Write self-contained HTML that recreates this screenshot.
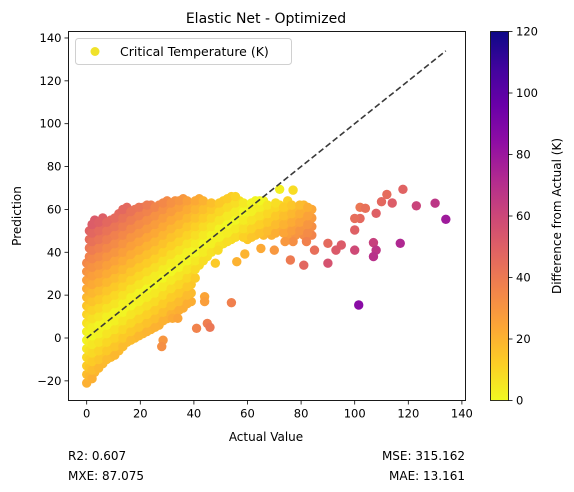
<!DOCTYPE html>
<html><head><meta charset="utf-8">
<style>
body{margin:0;background:#fff;}
svg{display:block;font-family:"DejaVu Sans","Liberation Sans",sans-serif;}
</style></head>
<body>
<svg id="chart" width="574" height="492" viewBox="0 0 574 492">
  <text x="266" y="23" font-size="14" text-anchor="middle">Elastic Net - Optimized</text>
  <g id="plot"></g>
  <text x="266" y="441" font-size="12" text-anchor="middle">Actual Value</text>
  <text transform="translate(21,216) rotate(-90)" font-size="12" text-anchor="middle">Prediction</text>
  <text x="68" y="460" font-size="12">R2: 0.607</text>
  <text x="68" y="480" font-size="12">MXE: 87.075</text>
  <text x="465" y="460" font-size="12" text-anchor="end">MSE: 315.162</text>
  <text x="465" y="480" font-size="12" text-anchor="end">MAE: 13.161</text>
  <g id="legend"></g>
  <defs>
    <linearGradient id="cbgrad" x1="0" y1="1" x2="0" y2="0">
      <stop offset="0" stop-color="#f0f921"/><stop offset="0.1" stop-color="#fcce25"/>
      <stop offset="0.2" stop-color="#fca636"/><stop offset="0.3" stop-color="#f2844b"/>
      <stop offset="0.4" stop-color="#e16462"/><stop offset="0.5" stop-color="#cc4778"/>
      <stop offset="0.6" stop-color="#b12a90"/><stop offset="0.7" stop-color="#8f0da4"/>
      <stop offset="0.8" stop-color="#6a00a8"/><stop offset="0.9" stop-color="#41049d"/>
      <stop offset="1" stop-color="#0d0887"/>
    </linearGradient>
  </defs>
  <g id="cbar">
    <rect x="490.5" y="31.5" width="18" height="369" fill="url(#cbgrad)" stroke="#000" stroke-width="0.8"/>
  </g>
  <text transform="translate(561,216) rotate(-90)" font-size="12" text-anchor="middle">Difference from Actual (K)</text>
</svg>
<script>
const colActual = [0,1,3,6,9,12,15,18,21,24,27,30,33,36,39,42,45,48,51,54,57,60,63,66,69,72,75,78,81,84];
const colPreds = [
 [-21,-17,-13,-9,-5,-1,3,7,11,15,19,23,27,31,35],
 [-18,-14,-10,-6,-2,2,6,10,14,18,22,26,30,34,38,42,46,50],
 [-16,-12,-8,-4,0,4,8,12,16,20,24,28,32,36,40,44,48,52,55],
 [-12,-8,-4,0,4,8,12,16,20,24,28,32,36,40,44,48,52,56],
 [-9,-5,-1,3,7,11,15,19,23,27,31,35,39,43,47,51,55],
 [-6,-2,2,6,10,14,18,22,26,30,34,38,42,46,50,54,58],
 [-2,2,6,10,14,18,22,26,30,34,38,42,46,50,54,58,61],
 [0,4,8,12,16,20,24,28,32,36,40,44,48,52,56,60],
 [2,6,10,14,18,22,26,30,34,38,42,46,50,54,58,61],
 [4,8,12,16,20,24,28,32,36,40,44,48,52,56,60,62],
 [6,10,14,18,22,26,30,34,38,42,46,50,54,58,62],
 [9,13,17,21,25,29,33,37,41,45,49,53,57,61,64],
 [12,16,20,24,28,32,36,40,44,48,52,56,60,64],
 [14,18,22,26,30,34,38,42,46,50,54,58,62,65],
 [17,21,25,29,33,37,41,45,49,53,57,61],
 [34,38,42,46,50,54,58,62,65],
 [38,42,46,50,54,58,62],
 [42,46,50,54,58,62],
 [44,48,52,56,60,64],
 [46,50,54,58,62,66],
 [48,52,56,60,64],
 [46,50,54,58,62],
 [48,52,56,60,64],
 [48,52,56,60,64],
 [48,52,56,60],
 [50,54,58,62],
 [48,52,56,60,64],
 [48,52,56,60],
 [48,52,56,60,62],
 [48,52,56,60]
];
const colActual2 = [2,4.5,7.5,10.5,13.5,16.5,19.5,22.5,25.5,28.5,31.5,34.5,37.5,40.5,43.5,46.5,49.5,52.5,55.5,58.5,61.5,64.5,67.5,70.5,73.5,76.5,79.5,82.5];
const colPreds2 = [
 [-19,-15,-11,-7,-3,1,5,9,13,17,21,25,29,33,37,41,45,49,53],
 [-14,-10,-6,-2,2,6,10,14,18,22,26,30,34,38,42,46,50,54],
 [-10,-6,-2,2,6,10,14,18,22,26,30,34,38,42,46,50,54],
 [-8,-4,0,4,8,12,16,20,24,28,32,36,40,44,48,52,56],
 [-4,0,4,8,12,16,20,24,28,32,36,40,44,48,52,56,60],
 [-1,3,7,11,15,19,23,27,31,35,39,43,47,51,55,59],
 [1,5,9,13,17,21,25,29,33,37,41,45,49,53,57,61],
 [3,7,11,15,19,23,27,31,35,39,43,47,51,55,59,62],
 [5,9,13,17,21,25,29,33,37,41,45,49,53,57,61],
 [8,12,16,20,24,28,32,36,40,44,48,52,56,60,63],
 [11,15,19,23,27,31,35,39,43,47,51,55,59,63],
 [13,17,21,25,29,33,37,41,45,49,53,57,61,64],
 [16,20,24,28,32,36,40,44,48,52,56,60,64],
 [28,32,36,40,44,48,52,56,60,64],
 [36,40,44,48,52,56,60,64],
 [40,44,48,52,56,60,63],
 [43,47,51,55,59,63],
 [45,49,53,57,61,65],
 [47,51,55,59,63,66],
 [47,51,55,59,63],
 [47,51,55,59,63],
 [49,53,57,61,64],
 [50,54,58,62],
 [49,53,57,61,63],
 [49,53,57,61],
 [50,54,58,62],
 [50,54,58,62],
 [49,53,57,61]
];
const outA = [134,130,123,118,117,112,114,110,108,107,108,107,100,101.5,100,102,100,102,104,95,93,90,90,85,82,81,76,77,74,70,65,54,45,41,46,28.5,28,44,44,32,34,72,77,56,59,48,49];
const outP = [55.4,62.9,61.7,69.4,44.2,67,63,63.6,58.2,44.5,41,38,41,15.4,50.4,55.8,55.8,61,60.5,43.4,41,44.2,34.9,41,45,34,36.4,45,45,41,41.8,16.5,6.8,4.5,5,-1,-4,19.3,17,9.2,9.2,69.4,69,35.6,39.2,34.9,41];
const xTicks = [0,20,40,60,80,100,120,140];
const yTicks = [-20,0,20,40,60,80,100,120,140];
const cTicks = [0,20,40,60,80,100,120];

const NS = "http://www.w3.org/2000/svg";
const L=68.5,R=465.5,T=31.5,B=400.5;
const xs = v => 86.7 + v*2.68;
const ys = v => 338 - v*2.143;
const cs = v => 400.5 - v*(369/120);
const stops = [[13,8,135],[65,4,157],[106,0,168],[143,13,164],[177,42,144],[204,71,120],[225,100,98],[242,132,75],[252,166,54],[252,206,37],[240,249,33]];
function color(d){
  let t = 1 - Math.min(Math.max(d,0),120)/120;
  let f = t*10, i = Math.min(Math.floor(f),9), r = f-i;
  const a=stops[i], b=stops[i+1];
  return `rgb(${Math.round(a[0]+(b[0]-a[0])*r)},${Math.round(a[1]+(b[1]-a[1])*r)},${Math.round(a[2]+(b[2]-a[2])*r)})`;
}
const plot = document.getElementById('plot');
function mk(tag, attrs, parent){
  const e = document.createElementNS(NS, tag);
  for (const k in attrs) e.setAttribute(k, attrs[k]);
  (parent||plot).appendChild(e); return e;
}
function point(a,p){
  const c = mk('circle',{cx:xs(a),cy:ys(p),r:4.7,fill:color(Math.abs(a-p))});
  
  
}
colActual.forEach((a,i)=>colPreds[i].forEach(p=>point(a,p)));
colActual2.forEach((a,i)=>colPreds2[i].forEach(p=>point(a,p)));
outA.forEach((a,i)=>point(a,outP[i]));
const maxA = Math.max(...outA);
const line = mk('line',{x1:xs(0),y1:ys(0),x2:xs(maxA),y2:ys(maxA),stroke:'#3a3a3a','stroke-width':1.6,'stroke-dasharray':'6,3'});


const frame = mk('rect',{x:L,y:T,width:R-L,height:B-T,fill:'none',stroke:'#000','stroke-width':0.9});


const lg = document.getElementById('legend');
const lbox = mk('rect',{x:75.5,y:38.5,width:216,height:26,rx:3,fill:'#fff','fill-opacity':0.85,stroke:'#d0d0d0'},lg);


const lm = mk('circle',{cx:95,cy:51.5,r:4.5,fill:'#f0e22b'},lg);


const lt = mk('text',{x:120,y:56,'font-size':12.5},lg);
lt.textContent = 'Critical Temperature (K)';


xTicks.forEach(v=>{
  const x=xs(v);
  const t = mk('line',{x1:x,y1:B,x2:x,y2:B+4,stroke:'#000','stroke-width':0.8});
  
  
  const l = mk('text',{x:x,y:B+17,'font-size':11.5,'text-anchor':'middle'});
  l.textContent = v;
  
  
});
yTicks.forEach(v=>{
  const y=ys(v);
  const t = mk('line',{x1:L-4,y1:y,x2:L,y2:y,stroke:'#000','stroke-width':0.8});
  
  
  const l = mk('text',{x:L-7,y:y+4,'font-size':11.5,'text-anchor':'end'});
  l.textContent = v<0 ? '\u2212'+(-v) : v;
  
  
});
const cbar = document.getElementById('cbar');
cTicks.forEach(v=>{
  const y=cs(v);
  const t = mk('line',{x1:508.5,y1:y,x2:512.5,y2:y,stroke:'#000','stroke-width':0.8},cbar);
  
  
  const l = mk('text',{x:516,y:y+4,'font-size':11.5},cbar);
  l.textContent = v;
  
  
});
</script>
</body></html>
